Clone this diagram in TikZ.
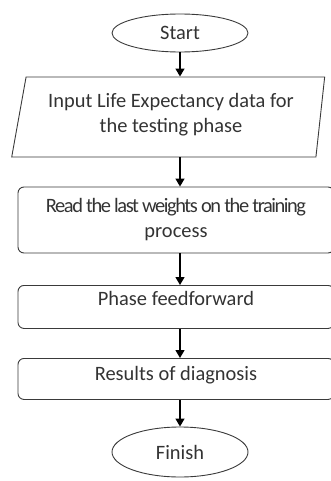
\documentclass[tikz,border=0pt]{standalone}
\usepackage{fontspec}
\setmainfont{Carlito}
\usetikzlibrary{shapes.geometric,arrows.meta}

\definecolor{boxline}{HTML}{3A3A3A}
\definecolor{boxtext}{HTML}{333333}

\tikzset{every node/.style = {font=\fontsize{20.5}{25}\selectfont, text=boxtext},
         terminal/.style = {ellipse, draw=boxline, line width=0.9bp,
                            minimum width=136bp, inner sep=0pt},
         inputbox/.style = {trapezium, trapezium left angle=77,
                            trapezium right angle=98, trapezium stretches=true,
                            draw=boxline, line width=0.9bp,
                            minimum width=314bp, minimum height=80bp, align=center},
         procbox/.style  = {rectangle, rounded corners=6bp, draw=boxline,
                            line width=0.9bp, minimum width=316bp, align=center},
         flow/.style     = {-{Triangle[length=8bp,width=9bp]}, line width=1.3bp, black}
        }

\begin{document}
\begin{tikzpicture}
  \useasboundingbox (0,0) rectangle (331bp,-481bp);
  \node[terminal, minimum height=38bp] (start) at (180bp,-33bp) {Start};
  \node[inputbox] (input) at (171bp,-117bp)
       {Input Life Expectancy data for\\the testing phase\\[-16.5bp]};
  \node[procbox, minimum height=66bp] (read) at (176bp,-220bp)
       {\addfontfeature{LetterSpace=-7}Read the last weights on the training\\process};
  \node[procbox, anchor=north, inner ysep=4bp, text height=16bp, text depth=19bp]
       (phase) at (176bp,-285bp) {Phase feedforward};
  \node[procbox, anchor=north, inner ysep=4bp, text height=18bp, text depth=15bp]
       (result) at (176bp,-358bp) {Results of diagnosis};
  \node[terminal, minimum height=50bp] (finish) at (180bp,-452bp) {Finish};
  % arrows
  \draw[flow] (start.south) -- (start.south |- input.north);
  \draw[flow] (start.south |- input.south) -- (start.south |- read.north);
  \draw[flow] (start.south |- read.south) -- (start.south |- phase.north);
  \draw[flow] (start.south |- phase.south) -- (start.south |- result.north);
  \draw[flow] (start.south |- result.south) -- (finish.north);
\end{tikzpicture}
\end{document}
